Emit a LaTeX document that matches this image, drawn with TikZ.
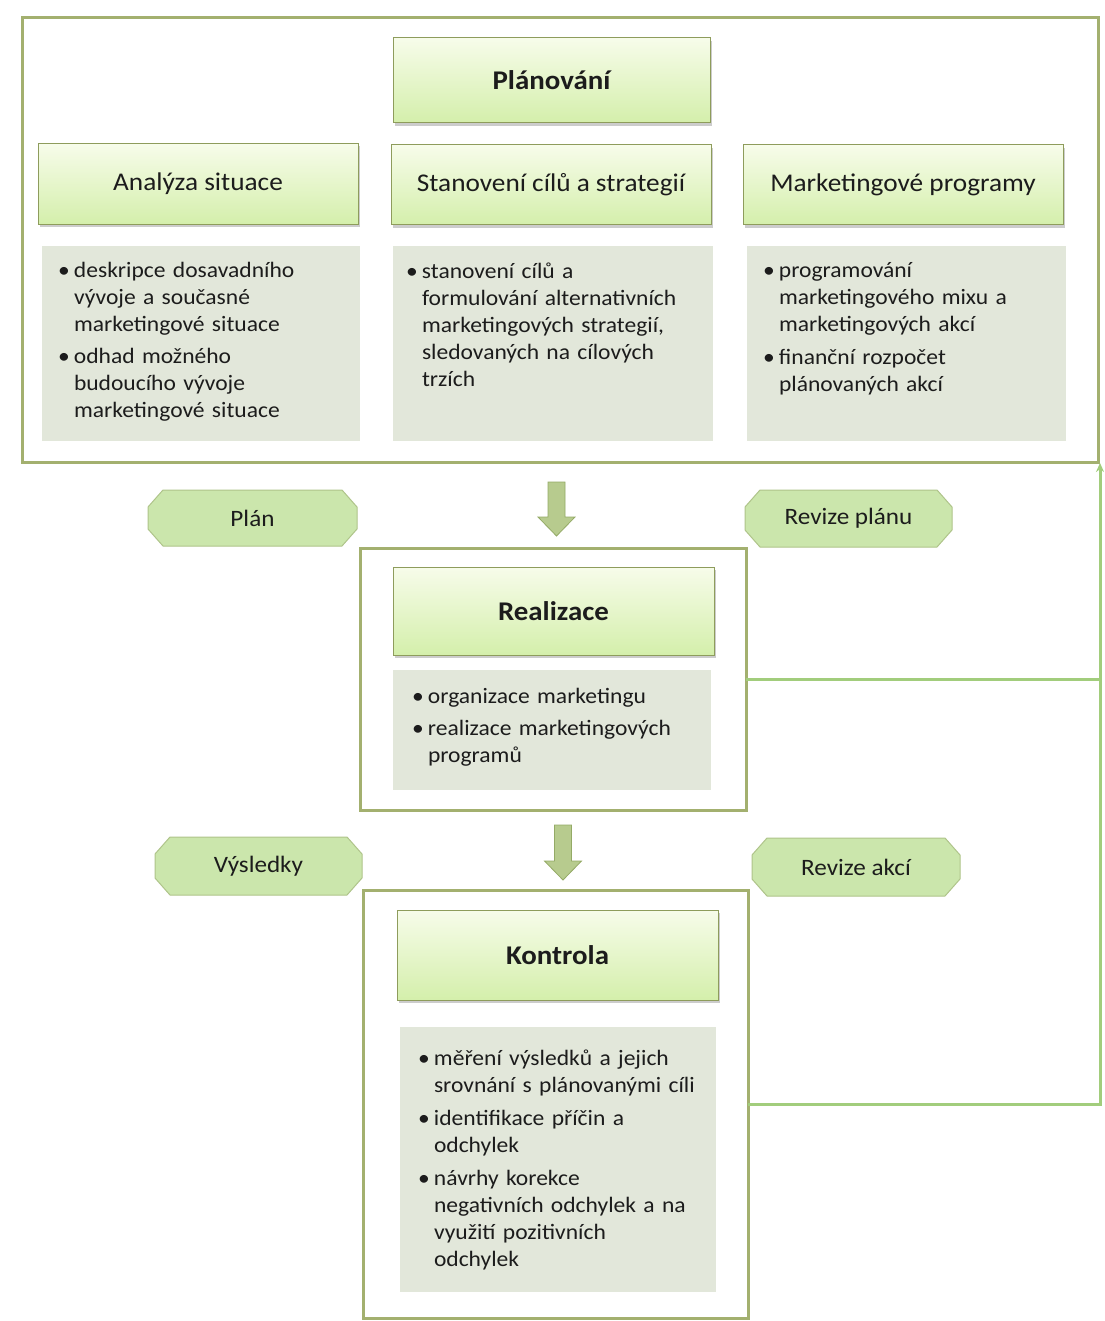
\documentclass[tikz,border=0pt]{standalone}
\usepackage{fontspec}
\setmainfont{Carlito}[FakeStretch=1.07]
\usetikzlibrary{calc,shadows,backgrounds,arrows.meta}

\definecolor{frameline}{HTML}{A3B06F}
\definecolor{titleborder}{HTML}{8E9C5C}
\definecolor{titletop}{HTML}{F7FCEA}
\definecolor{titlebottom}{HTML}{D4EFAB}
\definecolor{bodyfill}{HTML}{E2E7DA}
\definecolor{hexfill}{HTML}{CBE6AC}
\definecolor{hexborder}{HTML}{AFC48A}
\definecolor{arrowfill}{HTML}{B7CB8E}
\definecolor{arrowdraw}{HTML}{94AA66}
\definecolor{fbline}{HTML}{A2CD7C}
\definecolor{textcol}{HTML}{1C1C1C}

% bullet item with hanging text block for the grey description boxes
\newcommand{\bul}[1]{\par\noindent\hbox to 16pt{\textbullet\hss}\parbox[t]{290pt}{\raggedright\strut #1}\par}
\newcommand{\nxt}[1][8pt]{\vspace{#1}}

\begin{document}
\begin{tikzpicture}[x=1pt,y=-1pt,
  frame/.style={draw=frameline, line width=3pt, fill=white, inner sep=0pt, outer sep=0pt,
    drop shadow={shadow xshift=1.5pt, shadow yshift=-1.5pt, opacity=0.3}},
  titlebox/.style={draw=titleborder, line width=1pt, top color=titletop, bottom color=titlebottom,
    inner sep=0pt, outer sep=0pt, text=textcol,
    drop shadow={shadow xshift=1.5pt, shadow yshift=-3pt, opacity=0.4},
    font=\fontsize{27}{32}\selectfont\bfseries},
  headbox/.style={titlebox, font=\fontsize{25.5}{30}\selectfont},
  bodybox/.style={fill=bodyfill, inner sep=0pt, outer sep=0pt},
  bodytext/.style={anchor=north west, inner sep=0pt, outer sep=0pt, text width=310pt,
    text=textcol, font=\fontsize{22}{27}\selectfont},
  tag/.style={inner sep=0pt, outer sep=0pt, text=textcol, font=\fontsize{23.5}{28}\selectfont},
  hexshape/.style={fill=hexfill, draw=hexborder, line width=1pt},
  fb/.style={draw=fbline, line width=3pt},
  blockarrow/.style={fill=arrowfill, draw=arrowdraw, line width=0.8pt, line join=miter}
]
\useasboundingbox (0,0) rectangle (1104,1321);
\begin{scope}[on background layer]
  \fill[white] (0,0) rectangle (1104,1321);
\end{scope}

% ---------- planning block ----------
\node[frame, minimum width=1076, minimum height=444] (planframe) at (560,240) {};
\node[titlebox, minimum width=317, minimum height=85] (plantitle) at (551.5,80.5) {Plánování};

\node[headbox, minimum width=320, minimum height=81] (hdrA) at (198,184) {Analýza situace};
\node[headbox, minimum width=320, minimum height=80] (hdrB) at (551,185) {Stanovení cílů a strategií};
\node[headbox, minimum width=320, minimum height=80] (hdrC) at (903,185) {Marketingové programy};

\node[bodybox, minimum width=318, minimum height=195] (bodyA) at (201,343.5) {};
\node[bodybox, minimum width=320, minimum height=195] (bodyB) at (553,343.5) {};
\node[bodybox, minimum width=319, minimum height=195] (bodyC) at (906.5,343.5) {};

\node[bodytext] (txtA) at ($(bodyA.north west)+(16,5)$) {%
  \bul{deskripce dosavadního\\ vývoje a současné\\ marketingové situace}
  \nxt\bul{odhad možného\\ budoucího vývoje\\ marketingové situace}};
\node[bodytext] (txtB) at ($(bodyB.north west)+(13,6)$) {%
  \bul{stanovení cílů a\\ formulování alternativních\\ marketingových strategií,\\ sledovaných na cílových\\ trzích}};
\node[bodytext] (txtC) at ($(bodyC.north west)+(16,5)$) {%
  \bul{programování\\ marketingového mixu a\\ marketingových akcí}
  \nxt[9pt]\bul{finanční rozpočet\\ plánovaných akcí}};

% ---------- realisation block ----------
\node[frame, minimum width=386, minimum height=262] (realframe) at (553,679) {};
\node[titlebox, minimum width=321, minimum height=88] (realtitle) at (553.5,611) {Realizace};
\node[bodybox, minimum width=318, minimum height=120] (realbody) at (552,730) {};
\node[bodytext] (txtR) at ($(realbody.north west)+(19,6)$) {%
  \bul{organizace marketingu}
  \nxt[5pt]\bul{realizace marketingových\\ programů}};

% ---------- control block ----------
\node[frame, minimum width=385, minimum height=428] (kontframe) at (555.5,1104) {};
\node[titlebox, minimum width=321, minimum height=90] (konttitle) at (557.5,955) {Kontrola};
\node[bodybox, minimum width=316, minimum height=265] (kontbody) at (558,1159.5) {};
\node[bodytext] (txtK) at ($(kontbody.north west)+(18,11)$) {%
  \bul{měření výsledků a jejich\\ srovnání s plánovanými cíli}
  \nxt[10pt]\bul{identifikace příčin a\\ odchylek}
  \nxt[10pt]\bul{návrhy korekce\\ negativních odchylek a na\\ využití pozitivních\\ odchylek}};

% ---------- side labels ----------
\node[tag, minimum width=209, minimum height=56] (lplan) at (252.5,518) {Plán};
\node[tag, minimum width=207, minimum height=57] (lrevplan) at (848.5,518.5) {Revize plánu};
\node[tag, minimum width=207, minimum height=58] (lvysl) at (258.5,866) {Výsledky};
\node[tag, minimum width=208, minimum height=58] (lrevakci) at (856,867) {Revize akcí};

\begin{scope}[on background layer]
  \foreach \n in {lplan,lrevplan,lvysl,lrevakci}{
    \draw[hexshape] ([xshift=15pt]\n.north west) -- ([xshift=-15pt]\n.north east)
      -- ([yshift=-17pt]\n.north east) -- ([yshift=17pt]\n.south east)
      -- ([xshift=-15pt]\n.south east) -- ([xshift=15pt]\n.south west)
      -- ([yshift=17pt]\n.south west) -- ([yshift=-17pt]\n.north west) -- cycle;
  }
\end{scope}

% ---------- block arrows between the stages ----------
\coordinate (a1s) at (556.5,482);
\coordinate (a1e) at (556.5,536);
\coordinate (a2s) at (563,825);
\coordinate (a2e) at (563,880);
\foreach \s/\e in {a1s/a1e,a2s/a2e}{
  \draw[blockarrow] ($(\s)+(-8.5,0)$) -- ($(\e)+(-8.5,-19)$) -- ($(\e)+(-18.5,-19)$) -- (\e)
    -- ($(\e)+(18.5,-19)$) -- ($(\e)+(8.5,-19)$) -- ($(\s)+(8.5,0)$) -- cycle;
}

% ---------- feedback path back to planning ----------
\coordinate (fbtop) at ($(planframe.south east)+(2,1)$);
\draw[fb] (realframe.east) -- (realframe.east -| fbtop);
\draw[fb, -{Stealth[length=9pt,width=8pt]}] (kontframe.east) -- (kontframe.east -| fbtop) -- (fbtop);
\end{tikzpicture}
\end{document}
